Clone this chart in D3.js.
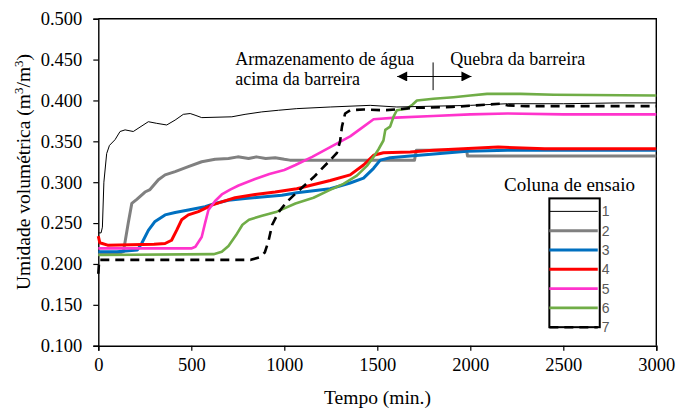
<!DOCTYPE html>
<html>
<head>
<meta charset="utf-8">
<script src="https://cdn.jsdelivr.net/npm/d3@7"></script>
<style>
html,body{margin:0;padding:0;background:#fff;}
svg{display:block;font-family:"Liberation Serif","Times New Roman",serif;}
</style>
</head>
<body>
<svg id="chart" width="692" height="408"></svg>
<script>
// ---- data (time in min, volumetric moisture m3/m3) ----
const seriesNames = ["1","2","3","4","5","6","7"];
const seriesColors = ["#000000","#808080","#0070c0","#ff0000","#ff33cc","#70ad47","#000000"];
const xTicks = [0,500,1000,1500,2000,2500,3000];
const yTicks = [0.100,0.150,0.200,0.250,0.300,0.350,0.400,0.450,0.500];

const col1 = [[0,0.238],[15,0.238],[22,0.245],[30,0.300],[45,0.335],[60,0.345],[90,0.352],[117,0.362],[144,0.364],[188,0.362],[269,0.374],[314,0.372],[368,0.370],[413,0.376],[457,0.383],[494,0.384],[520,0.382],[556,0.379],[718,0.380],[789,0.383],[879,0.386],[969,0.388],[1067,0.390],[1247,0.392],[1462,0.394],[1605,0.392],[1800,0.393],[2000,0.394],[2200,0.396],[2500,0.396],[2800,0.397],[3000,0.397]];
const col2 = [[0,0.212],[100,0.212],[135,0.215],[161,0.250],[180,0.274],[207,0.279],[251,0.288],[278,0.291],[323,0.303],[359,0.309],[413,0.313],[484,0.319],[556,0.325],[628,0.328],[700,0.329],[750,0.331],[808,0.329],[850,0.331],[900,0.329],[951,0.330],[1000,0.328],[1030,0.327],[1700,0.327],[1710,0.339],[1980,0.339],[1985,0.332],[3000,0.332]];
const col3 = [[0,0.215],[100,0.215],[210,0.217],[233,0.225],[269,0.241],[305,0.252],[359,0.260],[413,0.263],[484,0.266],[574,0.270],[628,0.274],[699,0.278],[789,0.280],[879,0.282],[987,0.284],[1067,0.287],[1247,0.292],[1354,0.299],[1426,0.305],[1480,0.317],[1516,0.327],[1569,0.330],[1677,0.332],[1982,0.338],[2200,0.339],[3000,0.339]];
const col4 = [[0,0.234],[8,0.226],[50,0.223],[300,0.224],[359,0.225],[394,0.229],[421,0.241],[448,0.254],[484,0.260],[538,0.264],[610,0.272],[664,0.276],[735,0.281],[843,0.285],[951,0.288],[1067,0.292],[1247,0.302],[1354,0.309],[1426,0.321],[1480,0.333],[1533,0.336],[1677,0.337],[1800,0.339],[2150,0.343],[2400,0.341],[3000,0.341]];
const col5 = [[0,0.219],[500,0.219],[522,0.221],[556,0.233],[574,0.250],[592,0.266],[628,0.277],[664,0.285],[709,0.291],[754,0.296],[843,0.304],[920,0.310],[1000,0.315],[1060,0.321],[1150,0.331],[1247,0.343],[1354,0.356],[1426,0.368],[1480,0.377],[1600,0.379],[1800,0.381],[2000,0.383],[2200,0.384],[2500,0.383],[3000,0.383]];
const col6 = [[0,0.211],[620,0.212],[664,0.215],[700,0.222],[740,0.235],[775,0.248],[810,0.254],[880,0.259],[960,0.264],[1060,0.274],[1157,0.281],[1240,0.290],[1318,0.298],[1390,0.308],[1444,0.320],[1480,0.331],[1506,0.340],[1533,0.351],[1543,0.364],[1569,0.368],[1587,0.380],[1605,0.388],[1660,0.390],[1690,0.395],[1713,0.400],[1802,0.402],[1910,0.404],[2000,0.406],[2090,0.408],[2270,0.408],[2450,0.407],[3000,0.406]];
const col7 = [[0,0.188],[5,0.205],[820,0.205],[865,0.208],[895,0.214],[915,0.228],[935,0.248],[968,0.263],[1014,0.276],[1060,0.286],[1157,0.306],[1247,0.327],[1283,0.336],[1300,0.350],[1310,0.368],[1327,0.384],[1354,0.388],[1426,0.389],[1533,0.388],[1605,0.389],[1700,0.391],[1900,0.392],[2160,0.396],[2200,0.394],[2300,0.393],[3000,0.393]];
const seriesData = [col1,col2,col3,col4,col5,col6,col7];
const seriesWidths = [1,3,3,3,2.6,2.6,2.6];

const annotLeft = ["Armazenamento de água","acima da barreira"];
const annotRight = "Quebra da barreira";

// ---- layout ----
const svg = d3.select("#chart");
const x = d3.scaleLinear().domain([0,3000]).range([98.3,656.3]);
const y = d3.scaleLinear().domain([0.1,0.5]).range([345.7,18.7]);
const FS = 18.5;

// frame top/right
svg.append("path").attr("d",`M${x(0)},${y(0.5)}H${x(3000)}V${y(0.1)}`).attr("fill","none").attr("stroke","#000").attr("stroke-width",1.4);

const xAxis = svg.append("g").attr("transform",`translate(0,${y(0.1)})`)
  .call(d3.axisBottom(x).tickValues(xTicks).tickFormat(d3.format("d")).tickSize(5).tickPadding(7));
const yAxis = svg.append("g").attr("transform",`translate(${x(0)},0)`)
  .call(d3.axisLeft(y).tickValues(yTicks).tickFormat(d3.format(".3f")).tickSize(5).tickPadding(11));
[xAxis,yAxis].forEach(g=>{
  g.select(".domain").attr("stroke","#000").attr("stroke-width",1.4);
  g.selectAll(".tick line").attr("stroke","#000").attr("stroke-width",1.2);
  g.selectAll(".tick text").attr("font-family","Liberation Serif").attr("font-size",FS).attr("fill","#000");
});

// axis titles
svg.append("text").attr("x",377.5).attr("y",404).attr("text-anchor","middle").attr("font-size",19.5).text("Tempo (min.)");
const yt = svg.append("text").attr("transform","translate(30,172) rotate(-90)").attr("text-anchor","middle").attr("font-size",19.5);
yt.append("tspan").text("Umidade volumétrica (m");
yt.append("tspan").attr("baseline-shift","super").attr("font-size",13).text("3");
yt.append("tspan").text("/m");
yt.append("tspan").attr("baseline-shift","super").attr("font-size",13).text("3");
yt.append("tspan").text(")");

// lines
const line = d3.line().x(d=>x(d[0])).y(d=>y(d[1]));
const order = [1,2,3,4,5,6,0];
order.forEach(i=>{
  svg.append("path").datum(seriesData[i]).attr("d",line).attr("fill","none")
    .attr("stroke",seriesColors[i]).attr("stroke-width",seriesWidths[i])
    .attr("stroke-linejoin","round")
    .attr("stroke-dasharray",i===6?"9,6":null);
});

// annotations
const defs = svg.append("defs");
defs.append("marker").attr("id","ah").attr("viewBox","0 0 10 10").attr("refX",10).attr("refY",5)
  .attr("markerWidth",11).attr("markerHeight",10).attr("markerUnits","userSpaceOnUse").attr("orient","auto-start-reverse")
  .append("path").attr("d","M0,0L10,5L0,10Z").attr("fill","#000");
svg.append("line").attr("x1",x(1607)).attr("x2",x(2006)).attr("y1",y(0.4293)).attr("y2",y(0.4293))
  .attr("stroke","#000").attr("stroke-width",1.2).attr("marker-start","url(#ah)").attr("marker-end","url(#ah)");
svg.append("line").attr("x1",x(1800)).attr("x2",x(1800)).attr("y1",y(0.4465)).attr("y2",y(0.4126))
  .attr("stroke","#000").attr("stroke-width",1);
annotLeft.forEach((t,i)=>{
  const tx = svg.append("text").attr("x",x(736)).attr("y",y(0.443)+i*20).attr("font-size",18).text(t);
  if(i===0) tx.attr("textLength",179).attr("lengthAdjust","spacing");
});
svg.append("text").attr("x",x(1892)).attr("y",y(0.443)).attr("font-size",18).text(annotRight);

// legend
const lgX0 = x(2425), lgX1 = x(2696);
const lgY = i => y(0.2643) + i*19.3;
svg.append("text").attr("x",569.5).attr("y",191).attr("text-anchor","middle").attr("font-size",19).text("Coluna de ensaio");
svg.append("rect").attr("x",lgX0).attr("y",lgY(0)-13).attr("width",lgX1-lgX0).attr("height",lgY(6)-lgY(0)+13)
  .attr("fill","#fff").attr("stroke","#000").attr("stroke-width",2);
seriesNames.forEach((n,i)=>{
  svg.append("line").attr("x1",lgX0).attr("x2",lgX1-2).attr("y1",lgY(i)).attr("y2",lgY(i))
    .attr("stroke",seriesColors[i]).attr("stroke-width",seriesWidths[i])
    .attr("stroke-dasharray",i===6?"9,6":null);
  svg.append("text").attr("x",lgX1+2).attr("y",lgY(i)+5).attr("font-family","Liberation Sans")
    .attr("font-size",14).attr("fill","#595959").text(n);
});
</script>
</body>
</html>
